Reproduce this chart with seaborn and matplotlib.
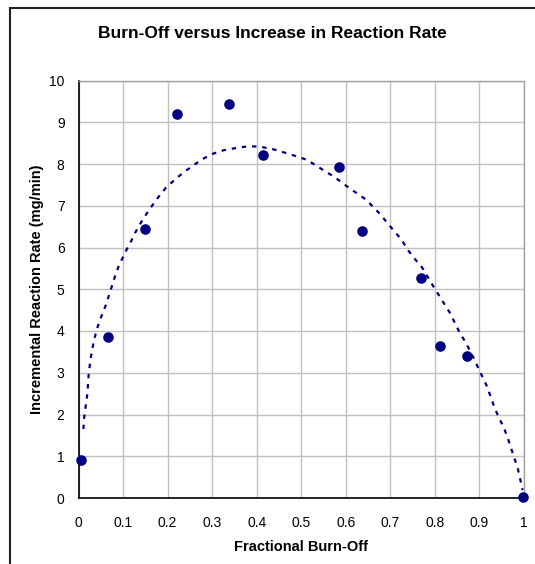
import matplotlib
matplotlib.use("Agg")
import matplotlib.pyplot as plt
import seaborn as sns
import pandas as pd
from matplotlib.patches import Rectangle

# measured points
burn_off = [0.005, 0.066, 0.150, 0.221, 0.337, 0.414, 0.584, 0.636, 0.768, 0.811, 0.872, 0.998]
rate = [0.91, 3.86, 6.45, 9.20, 9.44, 8.21, 7.93, 6.39, 5.26, 3.63, 3.39, 0.02]

# dashed model curve
curve_x = [0.011, 0.013, 0.020, 0.023, 0.028, 0.035, 0.042, 0.052, 0.061, 0.070,
           0.082, 0.090, 0.099, 0.108, 0.118, 0.127, 0.142, 0.159, 0.178, 0.196,
           0.221, 0.240, 0.261, 0.277, 0.300, 0.326, 0.352, 0.378, 0.405, 0.438,
           0.476, 0.513, 0.547, 0.577, 0.607, 0.645, 0.678, 0.690, 0.708, 0.725,
           0.738, 0.753, 0.772, 0.793, 0.807, 0.821, 0.834, 0.845, 0.856, 0.870,
           0.887, 0.901, 0.917, 0.933, 0.944, 0.954, 0.965, 0.976, 0.986, 0.997]
curve_y = [1.65, 1.95, 2.51, 2.99, 3.39, 3.79, 4.07, 4.37, 4.61, 4.91,
           5.31, 5.55, 5.75, 5.95, 6.15, 6.35, 6.63, 6.91, 7.19, 7.43,
           7.67, 7.83, 7.99, 8.11, 8.24, 8.33, 8.38, 8.42, 8.42, 8.35,
           8.23, 8.10, 7.87, 7.67, 7.43, 7.15, 6.79, 6.63, 6.40, 6.19,
           5.96, 5.75, 5.51, 5.13, 4.89, 4.65, 4.43, 4.19, 3.95, 3.71,
           3.35, 3.03, 2.67, 2.19, 1.91, 1.71, 1.39, 1.03, 0.71, 0.19]

x_ticks = [0, 0.1, 0.2, 0.3, 0.4, 0.5, 0.6, 0.7, 0.8, 0.9, 1]
x_tick_labels = ["0", "0.1", "0.2", "0.3", "0.4", "0.5", "0.6", "0.7", "0.8", "0.9", "1"]
y_ticks = list(range(0, 11))

df = pd.DataFrame({"burn_off": burn_off, "rate": rate})
curve = pd.DataFrame({"x": curve_x, "y": curve_y})

sns.set_style("white")
plt.rcParams["font.family"] = ["Liberation Sans", "DejaVu Sans"]
plt.rcParams["text.color"] = "black"
plt.rcParams["axes.labelcolor"] = "black"
plt.rcParams["xtick.color"] = "black"
plt.rcParams["ytick.color"] = "black"

W, H = 535, 564
fig = plt.figure(figsize=(W / 100, H / 100), dpi=100)
ax = fig.add_axes([78.5 / W, 1 - 498 / H, (524 - 78.5) / W, (498 - 80.5) / H])

navy = "#000080"
sns.lineplot(data=curve, x="x", y="y", ax=ax, sort=False, estimator=None,
             color=navy, lw=1.6, ls=(0, (2.0, 2.6)))
sns.scatterplot(data=df, x="burn_off", y="rate", ax=ax, color=navy, s=58,
                edgecolor=navy, linewidth=0, zorder=5, clip_on=False)

ax.set_xlim(0, 1)
ax.set_ylim(0, 10)
ax.set_xticks(x_ticks)
ax.set_xticklabels(x_tick_labels)
ax.set_yticks(y_ticks)
ax.grid(True, color="#c0c0c0", lw=1)
ax.set_axisbelow(True)
for s in ["top", "right"]:
    ax.spines[s].set_color("#a0a0a0")
    ax.spines[s].set_linewidth(1)
for s in ["left", "bottom"]:
    ax.spines[s].set_color("black")
    ax.spines[s].set_linewidth(1.2)
ax.tick_params(axis="both", which="both", direction="out", length=4, width=1,
               color="black", labelcolor="black", labelsize=10, pad=6)
ax.tick_params(axis="x", pad=9)
ax.set_xlabel("Fractional Burn-Off", fontsize=10.5, fontweight="bold", labelpad=7, color="black")
ax.set_ylabel("Incremental Reaction Rate (mg/min)", fontsize=10.5, fontweight="bold", labelpad=4, color="black")
fig.text(0.5 * (100 + 445) / W, 1 - 33 / H, "Burn-Off versus Increase in Reaction Rate",
         ha="center", va="center", fontsize=12.5, fontweight="bold", color="black")

fig.patches.append(Rectangle((10 / W, -0.1), 1.2, 1 - 8 / H + 0.1, transform=fig.transFigure,
                             fill=False, edgecolor="#222222", lw=1.5))

fig.savefig("out.png", dpi=100)
